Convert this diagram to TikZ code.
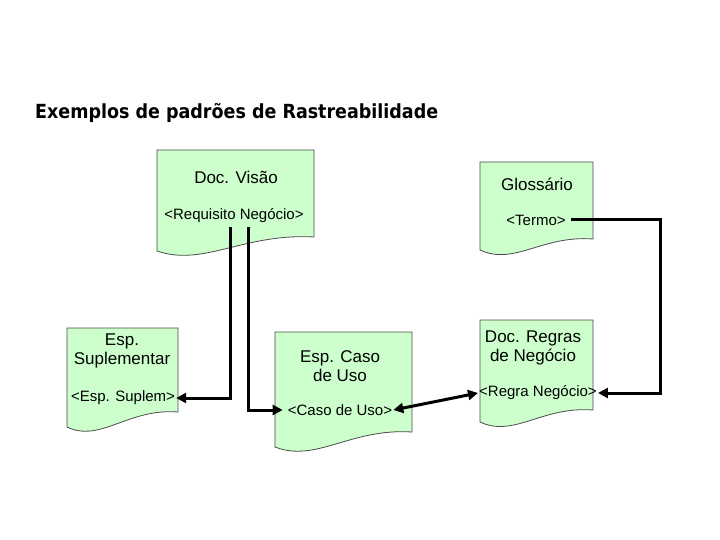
\documentclass[tikz,border=0pt]{standalone}
\usepackage{fontspec}
\setmainfont{Liberation Sans}
\newfontfamily\titlefont{DejaVu Sans Condensed}[BoldFont={DejaVu Sans Condensed Bold}]
\usetikzlibrary{arrows.meta,calc}
\definecolor{docgreen}{HTML}{CCFFCC}
\newcommand{\docshape}[5]{%
  \pgfmathsetmacro\dsW{#3-#1}%
  \pgfmathsetmacro\dsAx{#1+0.3*\dsW}%
  \pgfmathsetmacro\dsBx{#1+0.55*\dsW}%
  \pgfmathsetmacro\dsAy{#4+16}%
  \pgfmathsetmacro\dsBy{#5-4}%
  \filldraw[docbox] (#1,#2) -- (#3,#2) -- (#3,#5) .. controls (\dsBx,\dsBy) and (\dsAx,\dsAy) .. (#1,#4) -- cycle;
}
\tikzset{
  docbox/.style={fill=docgreen, draw=black!70, line width=0.8pt},
  doctitle/.style={font=\fontsize{17}{19}\selectfont, align=center, inner sep=1pt},
  doctag/.style={font=\fontsize{15}{17}\selectfont, inner sep=1pt},
  conn/.style={line width=3pt, draw=black},
  tip/.style={-{Triangle[length=10pt,width=10pt]}},
  tips/.style={{Triangle[length=10pt,width=10pt]}-{Triangle[length=10pt,width=10pt]}}
}
\begin{document}
\begin{tikzpicture}[x=1pt,y=-1pt]
\useasboundingbox (0,0) rectangle (720,540);
\fill[white] (0,0) rectangle (720,540);
% title
\node[anchor=base west, inner sep=0] (title) at (35,119)
  {\resizebox{403pt}{!}{\titlefont\bfseries\fontsize{19}{22}\selectfont Exemplos de padrões de Rastreabilidade}};
% documents
\docshape{157}{150}{314}{251}{237}
\docshape{480}{162}{593}{250}{239}
\docshape{67}{328}{178}{427}{412}
\docshape{275}{332}{412}{447}{432}
\docshape{480}{320}{593}{422}{410}
% texts
\node[doctitle] (visao) at (236,177) {Doc. Visão};
\node[doctag] (req) at (234,216) {<Requisito Negócio>};
\node[doctitle] (gloss) at (537,184) {Glossário};
\node[doctag] (termo) at (536,220) {<Termo>};
\node[doctitle] (supl) at (122,351) {Esp.\\Suplementar};
\node[doctag] (supltag) at (123,398) {<Esp. Suplem>};
\node[doctitle] (caso) at (340,366) {Esp. Caso\\de Uso};
\node[doctag] (casotag) at (340,410) {<Caso de Uso>};
\node[doctitle] (regras) at (533,348) {Doc. Regras\\de Negócio};
\node[doctag] (regratag) at (538,393) {<Regra Negócio>};
% connectors
\coordinate (r1) at (230,227);
\coordinate (r2) at (248,227);
\coordinate (rt) at (660,300);
\draw[conn, tip, line join=miter] (r1) |- (supltag.east);
\draw[conn, tip, line join=miter] (r2) |- ([xshift=-4pt]casotag.west);
\draw[conn, tip, line join=miter] ([xshift=4pt]termo.east) -| (rt) |- (regratag.east);
\draw[conn, tips] (casotag.east) -- (regratag.west);
\end{tikzpicture}
\end{document}
